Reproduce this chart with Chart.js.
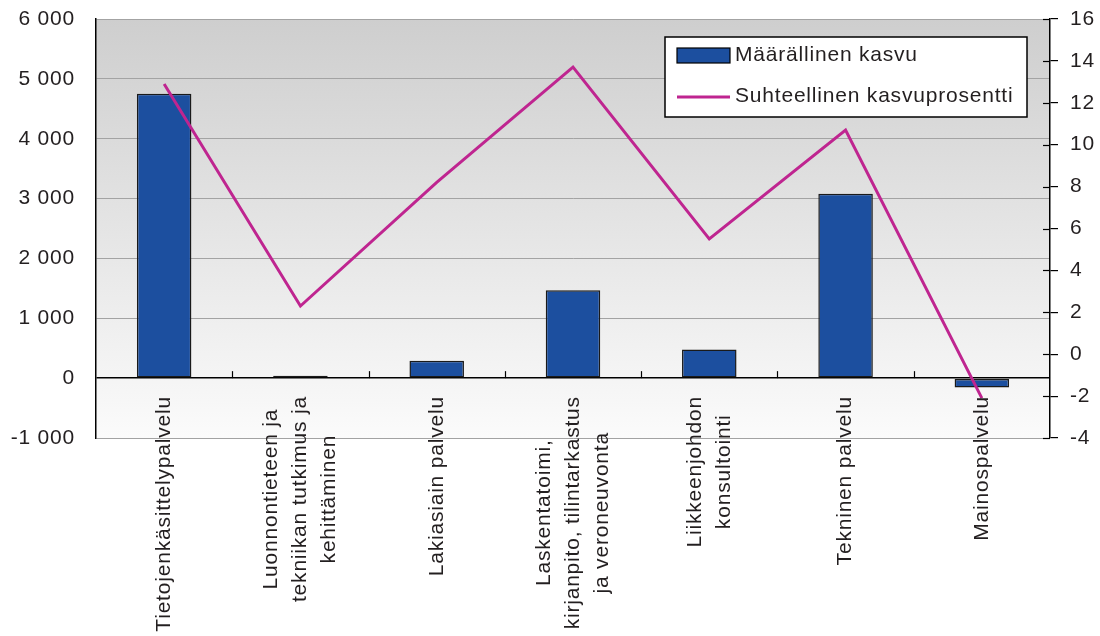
<!DOCTYPE html>
<html lang="fi">
<head>
<meta charset="utf-8">
<title>Kasvu toimialoittain</title>
<script src="https://cdn.jsdelivr.net/npm/chart.js@4"></script>
<style>
  html, body { margin: 0; padding: 0; background: #fff; }
  #wrap { width: 1100px; height: 636px; }
</style>
</head>
<body>
<div id="wrap"><canvas id="kasvu-chart" width="1100" height="636"></canvas></div>
<script>
// Data
const kategoriat = [
  ['Tietojenkäsittelypalvelu'],
  ['Luonnontieteen ja', 'tekniikan tutkimus ja', 'kehittäminen'],
  ['Lakiasiain palvelu'],
  ['Laskentatoimi,', 'kirjanpito, tilintarkastus', 'ja veroneuvonta'],
  ['Liikkeenjohdon', 'konsultointi'],
  ['Tekninen palvelu'],
  ['Mainospalvelu'],
];
const maarallinenKasvu = [4750, 40, 290, 1470, 480, 3080, -155];
const kasvuprosentti = [12.9, 2.3, 8.2, 13.7, 5.5, 10.7, -2.1];
const vasenAkseli = { min: -1000, max: 6000, step: 1000 };
const oikeaAkseli = { min: -4, max: 16, step: 2 };

const FONT = '"Liberation Sans", Arial, sans-serif';
const TEXT = '#231f20';
const BAR_COLOR = '#1c4f9f';
const LINE_COLOR = '#bf2590';

function muotoile(v) {
  return String(v).replace(/\B(?=(\d{3})+(?!\d))/g, ' ');
}

// Background gradient + letter spacing
const taustaPlugin = {
  id: 'tausta',
  beforeDraw(chart) {
    const { ctx, chartArea: a } = chart;
    ctx.letterSpacing = '0.8px';
    const g = ctx.createLinearGradient(0, a.top, 0, a.bottom);
    g.addColorStop(0, '#cecece');
    g.addColorStop(1, '#fbfbfb');
    ctx.save();
    ctx.fillStyle = g;
    ctx.fillRect(a.left, a.top, a.right - a.left, a.bottom - a.top);
    ctx.restore();
  },
};

// Category labels, small ticks, legend
const piirrosPlugin = {
  id: 'piirros',
  afterDraw(chart) {
    const { ctx, chartArea: a } = chart;
    const x = chart.scales.x;
    const y = chart.scales.y;
    const y1 = chart.scales.y1;
    const nollaY = y.getPixelForValue(0);
    const n = chart.data.labels.length;
    const leveys = (a.right - a.left) / n;

    ctx.save();
    ctx.strokeStyle = '#000';
    ctx.lineWidth = 1.2;
    // ticks on zero line between categories
    for (let i = 1; i < n; i++) {
      const px = Math.round(a.left + leveys * i) + 0.5;
      ctx.beginPath();
      ctx.moveTo(px, nollaY);
      ctx.lineTo(px, nollaY - 7);
      ctx.stroke();
    }
    // inner half of right axis ticks
    y1.ticks.forEach((t) => {
      const py = Math.round(y1.getPixelForValue(t.value)) + 0.5;
      ctx.beginPath();
      ctx.moveTo(a.right - 7, py);
      ctx.lineTo(a.right, py);
      ctx.stroke();
    });

    // rotated category labels
    ctx.font = '21px ' + FONT;
    ctx.fillStyle = TEXT;
    ctx.textAlign = 'center';
    ctx.textBaseline = 'middle';
    const riviKorkeus = 29;
    chart.data.labels.forEach((rivit, i) => {
      const cx = x.getPixelForValue(i);
      const W = Math.max(...rivit.map((r) => ctx.measureText(r).width));
      ctx.save();
      ctx.translate(cx, nollaY + 18);
      ctx.rotate(-Math.PI / 2);
      rivit.forEach((r, j) => {
        ctx.fillText(r, -W / 2, (j - (rivit.length - 1) / 2) * riviKorkeus);
      });
      ctx.restore();
    });

    // legend
    const lx = 665, ly = 37, lw = 362, lh = 80;
    ctx.fillStyle = '#fff';
    ctx.fillRect(lx, ly, lw, lh);
    ctx.strokeStyle = '#000';
    ctx.lineWidth = 1.5;
    ctx.strokeRect(lx, ly, lw, lh);
    ctx.textAlign = 'left';
    chart.data.datasets.forEach((ds, i) => {
      const cy = ly + 18 + i * 41;
      if (ds.type === 'line') {
        ctx.strokeStyle = ds.borderColor;
        ctx.lineWidth = 3;
        ctx.beginPath();
        ctx.moveTo(677, cy + 1);
        ctx.lineTo(730, cy + 1);
        ctx.stroke();
      } else {
        ctx.fillStyle = ds.backgroundColor;
        ctx.fillRect(677, cy - 7, 53, 15);
        ctx.strokeStyle = '#000';
        ctx.lineWidth = 1.2;
        ctx.strokeRect(677, cy - 7, 53, 15);
      }
      ctx.fillStyle = TEXT;
      ctx.fillText(ds.label, 735, cy);
    });
    ctx.restore();
  },
};

// fixed axis widths, no extra label padding
function kiinteaLeveys(w) {
  return (s) => {
    s.width = w;
    s.paddingTop = 0;
    s.paddingBottom = 0;
  };
}

const ctx = document.getElementById('kasvu-chart').getContext('2d');
new Chart(ctx, {
  data: {
    labels: kategoriat,
    datasets: [
      {
        type: 'bar',
        label: 'Määrällinen kasvu',
        data: maarallinenKasvu,
        backgroundColor: BAR_COLOR,
        borderColor: '#1a1a1a',
        borderWidth: 1.5,
        borderSkipped: false,
        categoryPercentage: 1,
        barPercentage: 0.4,
        yAxisID: 'y',
        order: 1,
      },
      {
        type: 'line',
        label: 'Suhteellinen kasvuprosentti',
        data: kasvuprosentti,
        borderColor: LINE_COLOR,
        borderWidth: 3,
        pointRadius: 0,
        tension: 0,
        fill: false,
        yAxisID: 'y1',
        order: 0,
      },
    ],
  },
  options: {
    responsive: false,
    animation: false,
    layout: { padding: { top: 19, left: 0, right: 0, bottom: 0 } },
    plugins: {
      legend: { display: false },
      tooltip: { enabled: false },
    },
    scales: {
      x: {
        offset: true,
        grid: { display: false },
        border: { display: false },
        ticks: { display: false },
        afterFit(s) {
          s.height = 198;
          s.paddingLeft = 0;
          s.paddingRight = 0;
        },
      },
      y: {
        position: 'left',
        min: vasenAkseli.min,
        max: vasenAkseli.max,
        border: { color: '#000', width: 1.5 },
        grid: {
          drawTicks: false,
          color: (c) => (c.tick && c.tick.value === 0 ? '#000' : '#a3a3a3'),
          lineWidth: (c) => (c.tick && c.tick.value === 0 ? 1.5 : 1),
        },
        ticks: {
          stepSize: vasenAkseli.step,
          padding: 21,
          color: TEXT,
          font: { family: FONT, size: 21 },
          callback: (v) => muotoile(v),
        },
        afterFit: kiinteaLeveys(96),
      },
      y1: {
        position: 'right',
        min: oikeaAkseli.min,
        max: oikeaAkseli.max,
        border: { color: '#000', width: 1.5 },
        grid: { drawOnChartArea: false, drawTicks: true, tickLength: 8, color: '#000', lineWidth: 1.2 },
        ticks: {
          stepSize: oikeaAkseli.step,
          padding: 12,
          color: TEXT,
          font: { family: FONT, size: 21 },
        },
        afterFit: kiinteaLeveys(50),
      },
    },
  },
  plugins: [taustaPlugin, piirrosPlugin],
});
</script>
</body>
</html>
